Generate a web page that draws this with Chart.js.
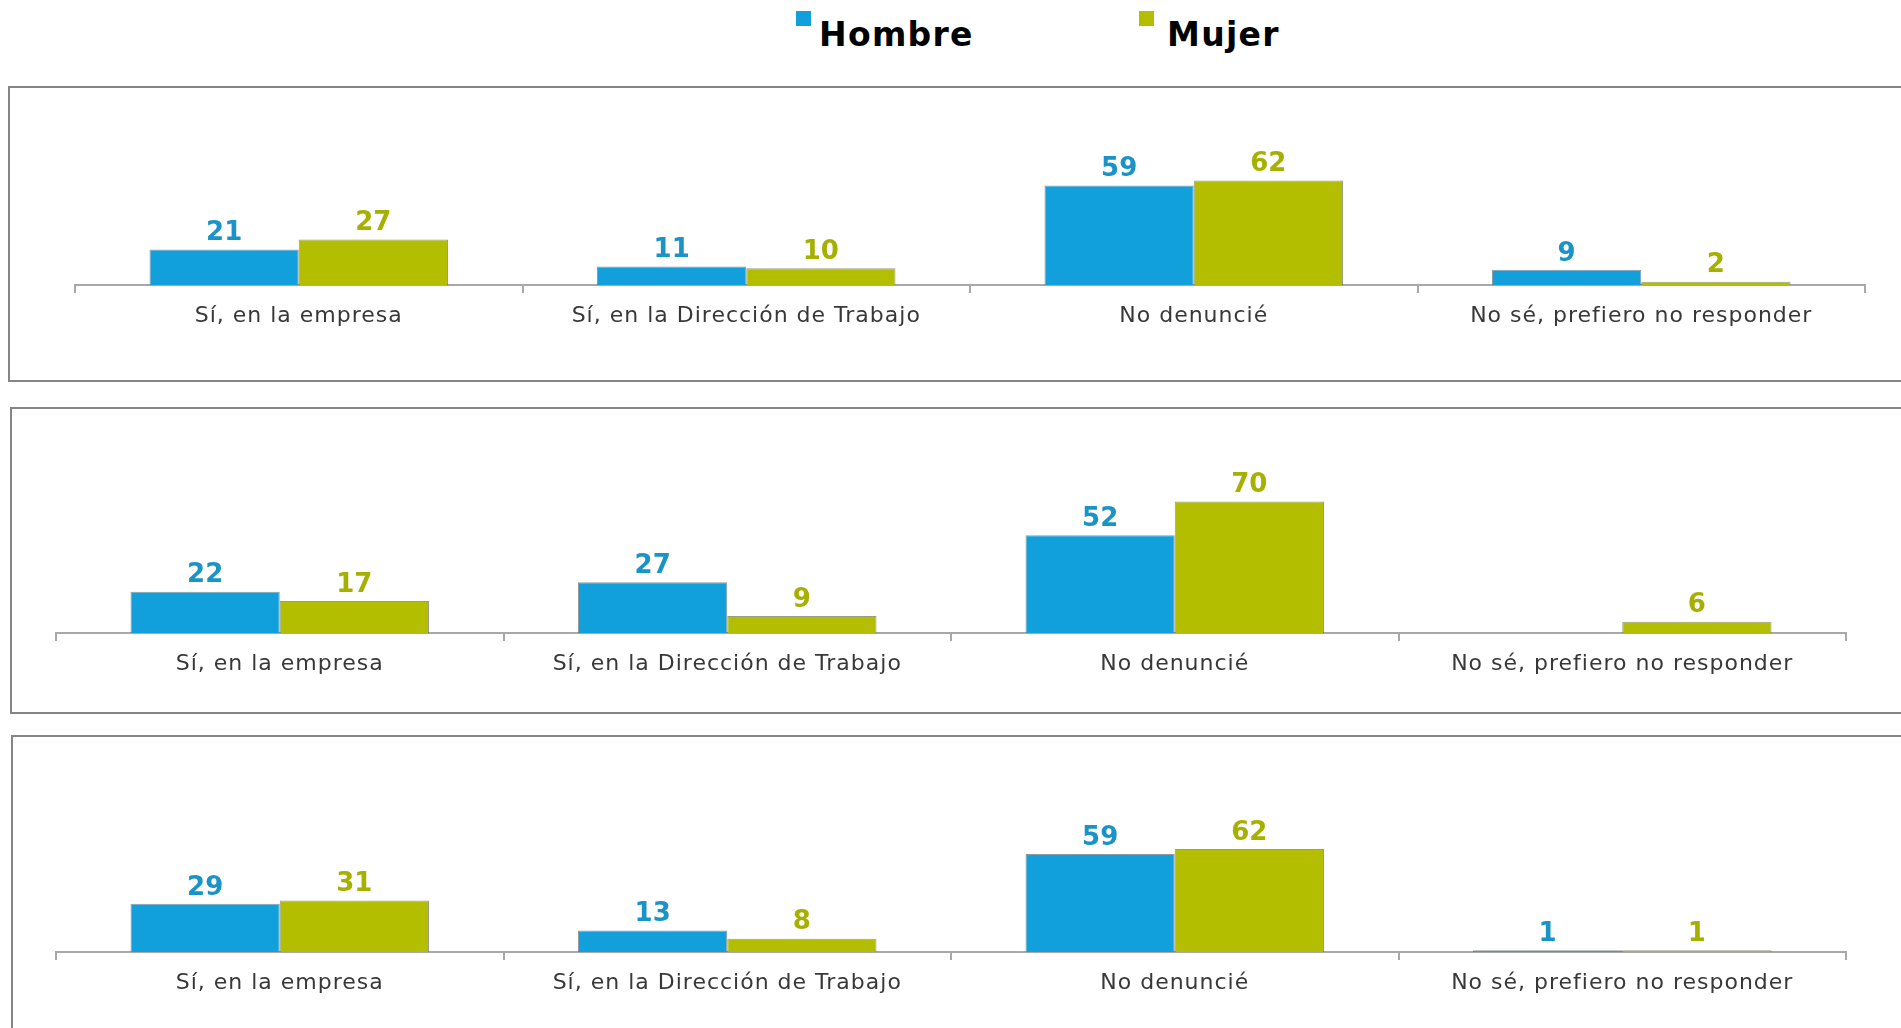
<!DOCTYPE html>
<html>
<head>
<meta charset="utf-8">
<script src="https://cdn.jsdelivr.net/npm/chart.js@4.4.1/dist/chart.umd.min.js"></script>
<style>
  html, body { margin: 0; padding: 0; background: #fff; overflow: hidden; }
  body { width: 1901px; height: 1028px; position: relative; }
  .panel { position: absolute; width: 2000px; border: 2px solid #858585; box-sizing: border-box; }
  canvas { position: absolute; left: 0; }
  .sq { position: absolute; width: 15px; height: 15px; }
  .lg { position: absolute; font: bold 33px "DejaVu Sans", sans-serif; letter-spacing: 1.3px; color: #000; line-height: 33px; }
</style>
</head>
<body>
<div class="sq" style="left:796px; top:11px; background:#12a0dc;"></div>
<div class="lg" style="left:819px; top:18px;">Hombre</div>
<div class="sq" style="left:1139px; top:11px; background:#b4be00;"></div>
<div class="lg" style="left:1167px; top:18px;">Mujer</div>

<div class="panel" style="left:8px; top:86px; height:296px;"></div>
<div class="panel" style="left:10px; top:407px; height:307px;"></div>
<div class="panel" style="left:11px; top:735px; height:400px;"></div>

<canvas id="c1" width="1901" height="296" style="top:86px"></canvas>
<canvas id="c2" width="1901" height="307" style="top:407px"></canvas>
<canvas id="c3" width="1901" height="293" style="top:735px"></canvas>

<script>
// Categorías comunes a los tres paneles
const categories = ['Sí, en la empresa', 'Sí, en la Dirección de Trabajo', 'No denuncié', 'No sé, prefiero no responder'];

// Panel 1
const hombre1 = [21, 11, 59, 9];
const mujer1 = [27, 10, 62, 2];
// Panel 2 (sin barra de Hombre en la última categoría)
const hombre2 = [22, 27, 52, null];
const mujer2 = [17, 9, 70, 6];
// Panel 3
const hombre3 = [29, 13, 59, 1];
const mujer3 = [31, 8, 62, 1];

const BLUE = '#12a0dc';
const GREEN = '#b4be00';

// Etiquetas de valor encima de cada barra
const valueLabels = {
    id: 'valueLabels',
    afterDatasetsDraw(chart) {
        const ctx = chart.ctx;
        ctx.save();
        ctx.letterSpacing = '0px';
        ctx.font = 'bold 26px "DejaVu Sans", sans-serif';
        ctx.textAlign = 'center';
        ctx.textBaseline = 'middle';
        chart.data.datasets.forEach((ds, i) => {
            const meta = chart.getDatasetMeta(i);
            ctx.fillStyle = ds.labelColor;
            meta.data.forEach((bar, j) => {
                const v = ds.data[j];
                if (v === null || v === undefined) return;
                ctx.fillText(String(v), bar.x, bar.y - 16);
            });
        });
        ctx.restore();
    }
};

const spacing = {
    id: 'spacing',
    beforeDraw(chart) { chart.ctx.letterSpacing = '1px'; }
};

function setupPanel(canvasId, hombre, mujer, pad) {
    const ctx = document.getElementById(canvasId).getContext('2d');
    return new Chart(ctx, {
        type: 'bar',
        data: {
            labels: categories,
            datasets: [{
                label: 'Hombre',
                data: hombre,
                backgroundColor: BLUE,
                borderColor: 'rgba(70, 85, 90, 0.6)',
                borderWidth: 1,
                labelColor: '#1a93c6'
            }, {
                label: 'Mujer',
                data: mujer,
                backgroundColor: GREEN,
                borderColor: 'rgba(85, 90, 50, 0.6)',
                borderWidth: 1,
                labelColor: '#a6b000'
            }]
        },
        options: {
            responsive: false,
            animation: false,
            categoryPercentage: 0.667,
            barPercentage: 1.0,
            layout: { padding: pad },
            plugins: {
                legend: { display: false },
                tooltip: { enabled: false }
            },
            scales: {
                y: { display: false, min: 0, max: 100 },
                x: {
                    offset: true,
                    afterFit: (scale) => { scale.height = 50; },
                    grid: {
                        offset: true,
                        drawOnChartArea: false,
                        drawTicks: true,
                        tickLength: 8,
                        color: '#a8a8a8',
                        lineWidth: 2
                    },
                    border: { display: true, color: '#a8a8a8', width: 2 },
                    ticks: {
                        color: '#383838',
                        padding: 10,
                        font: { family: '"DejaVu Sans", sans-serif', size: 22 }
                    }
                }
            }
        },
        plugins: [spacing, valueLabels]
    });
}

setupPanel('c1', hombre1, mujer1, { top: 30.5, bottom: 47, left: 75, right: 36 });
setupPanel('c2', hombre2, mujer2, { top: 38, bottom: 31, left: 56, right: 55 });
setupPanel('c3', hombre3, mujer3, { top: 51, bottom: 26, left: 56, right: 55 });
</script>
</body>
</html>
